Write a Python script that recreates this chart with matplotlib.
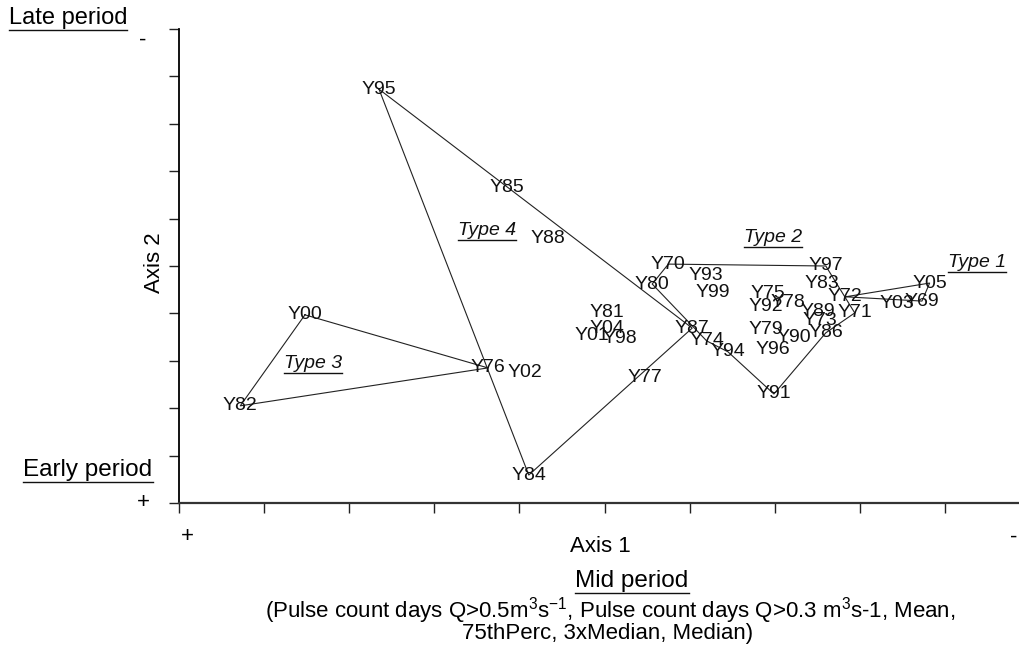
import matplotlib
matplotlib.use("Agg")
import matplotlib.pyplot as plt
from matplotlib.lines import Line2D

# ordination scores (axis 1 runs + -> -, axis 2 runs + (bottom) -> - (top))
years = ["Y69", "Y70", "Y71", "Y72", "Y73", "Y74", "Y75", "Y76", "Y77", "Y78",
         "Y79", "Y80", "Y81", "Y82", "Y83", "Y84", "Y85", "Y86", "Y87", "Y88",
         "Y89", "Y90", "Y91", "Y92", "Y93", "Y94", "Y95", "Y96", "Y97", "Y98",
         "Y99", "Y00", "Y01", "Y02", "Y03", "Y04", "Y05"]
axis1 = [8.73, 5.75, 7.94, 7.83, 7.53, 6.20, 6.92, 3.63, 5.48, 7.16,
         6.89, 5.56, 5.03, 0.72, 7.56, 4.11, 3.85, 7.60, 6.03, 4.34,
         7.51, 7.22, 6.99, 6.89, 6.19, 6.45, 2.35, 6.98, 7.60, 5.18,
         6.27, 1.48, 4.85, 4.07, 8.43, 5.03, 8.82]
axis2 = [4.26, 5.04, 4.01, 4.35, 3.84, 3.42, 4.43, 2.85, 2.64, 4.24,
         3.65, 4.62, 4.01, 2.05, 4.64, 0.59, 6.65, 3.59, 3.69, 5.57,
         4.05, 3.50, 2.30, 4.14, 4.79, 3.19, 8.73, 3.23, 5.00, 3.48,
         4.45, 3.97, 3.54, 2.76, 4.20, 3.69, 4.64]

# hull outlines of each flow type (in drawing order)
hull_type1 = ["Y72", "Y05", "Y69"]
hull_type2 = ["Y70", "Y97", "Y71", "Y86", "Y91", "Y94", "Y74", "Y80"]
hull_type3 = ["Y00", "Y76", "Y82"]
hull_type4 = ["Y95", "Y87", "Y84"]

type_names = ["Type 1", "Type 2", "Type 3", "Type 4"]
type_x = [9.38, 6.98, 1.57, 3.62]
type_y = [5.08, 5.61, 2.95, 5.74]

plt.rcParams["font.family"] = ["Liberation Sans", "DejaVu Sans"]
plt.rcParams["mathtext.fontset"] = "custom"
plt.rcParams["mathtext.rm"] = "Liberation Sans"
plt.rcParams["mathtext.it"] = "Liberation Sans:italic"

W, H = 1019, 650
fig = plt.figure(figsize=(W / 100, H / 100), dpi=100)
ax = fig.add_axes([179 / W, 1 - 503 / H, 1 - 179 / W, (503 - 29) / H])
ax.set_xlim(0, 9.87)
ax.set_ylim(0, 10)
for s in ["top", "right"]:
    ax.spines[s].set_visible(False)
ax.spines["left"].set_linewidth(1.3)
ax.spines["bottom"].set_linewidth(1.6)
ax.spines["bottom"].set_color("#333333")
ax.set_xticks(range(10))
ax.set_yticks(range(11))
ax.set_xticklabels([])
ax.set_yticklabels([])
ax.tick_params(direction="out", length=7, width=1.0, color="#222222")

pos = {y: (a, b) for y, a, b in zip(years, axis1, axis2)}

for hull in [hull_type1, hull_type2, hull_type3, hull_type4]:
    xs = [pos[h][0] for h in hull] + [pos[hull[0]][0]]
    ys = [pos[h][1] for h in hull] + [pos[hull[0]][1]]
    ax.plot(xs, ys, color="#222222", lw=0.8)

for y, a, b in zip(years, axis1, axis2):
    ax.text(a, b, y, ha="center", va="center", fontsize=14, color="#111111")

underlined = []
for name, tx, ty in zip(type_names, type_x, type_y):
    t = ax.text(tx, ty, name, ha="center", va="center", fontsize=14,
                style="italic", color="#111111")
    underlined.append(t)


def ptext(px, py, s, **kw):
    return fig.text(px / W, 1 - py / H, s, **kw)


underlined.append(ptext(68, 18, "Late period", ha="center", va="center", fontsize=17))
underlined.append(ptext(88, 470, "Early period", ha="center", va="center", fontsize=17.5))
underlined.append(ptext(632, 581, "Mid period", ha="center", va="center", fontsize=17.5))

ptext(143, 40, "-", ha="center", va="center", fontsize=16)
ptext(143, 502, "+", ha="center", va="center", fontsize=16)
ptext(187, 537, "+", ha="center", va="center", fontsize=16)
ptext(1014, 537, "-", ha="center", va="center", fontsize=16)

ptext(600, 546, "Axis 1", ha="center", va="center", fontsize=16)
ptext(155, 263, "Axis 2", ha="center", va="center", fontsize=16, rotation=90)

ptext(610, 611, r"(Pulse count days Q>0.5m$^{3}$s$^{-1}$, Pulse count days Q>0.3 m$^{3}$s-1, Mean,",
      ha="center", va="center", fontsize=16)
ptext(608, 633, "75thPerc, 3xMedian, Median)", ha="center", va="center", fontsize=16)

# underline texts by measuring them
fig.canvas.draw()
renderer = fig.canvas.get_renderer()
inv = fig.transFigure.inverted()
for t in underlined:
    bb = t.get_window_extent(renderer)
    (x0, y0), (x1, _) = inv.transform([(bb.x0, bb.y0 - 1), (bb.x1, bb.y0 - 1)])
    fig.add_artist(Line2D([x0, x1], [y0, y0], transform=fig.transFigure,
                          color="#111111", lw=1.0))

fig.savefig("out.png", dpi=100)
